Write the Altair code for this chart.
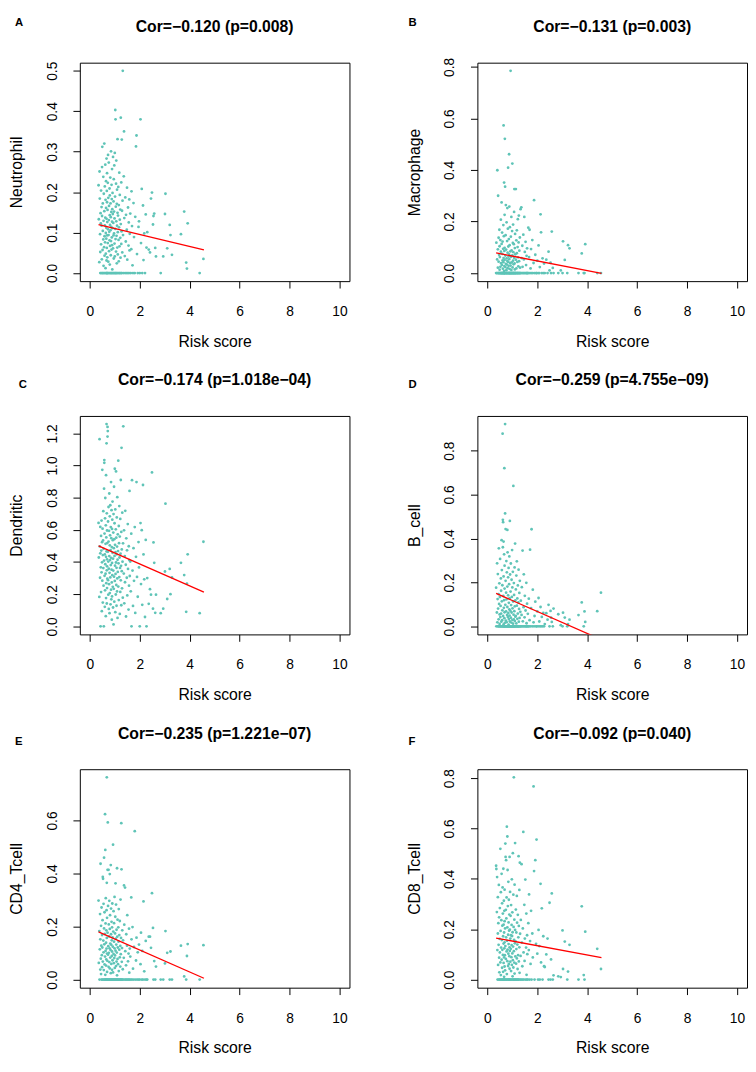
import altair as alt
import pandas as pd

# ---------------- data ----------------
risk_score = [
    0.35, 0.36, 0.38, 0.39, 0.40, 0.41, 0.42, 0.42, 0.43, 0.44, 0.45, 0.45, 0.46, 0.47, 0.47, 0.48, 0.49, 0.49,
    0.50, 0.50, 0.51, 0.52, 0.52, 0.53, 0.54, 0.54, 0.55, 0.55, 0.56, 0.57, 0.57, 0.58, 0.58, 0.59, 0.59, 0.60, 0.60, 0.61,
    0.61, 0.62, 0.62, 0.63, 0.63, 0.64, 0.64, 0.65, 0.65, 0.65, 0.66, 0.66, 0.67, 0.67, 0.67, 0.68, 0.68, 0.68, 0.69, 0.69,
    0.69, 0.69, 0.70, 0.70,
    0.71, 0.71, 0.72, 0.72, 0.73, 0.73, 0.74, 0.74, 0.75, 0.75, 0.76, 0.76, 0.77, 0.77, 0.78, 0.78, 0.79, 0.79, 0.80, 0.80,
    0.80, 0.81, 0.81, 0.82, 0.82, 0.83, 0.83, 0.84, 0.84, 0.85, 0.85, 0.85, 0.86, 0.86, 0.87, 0.87, 0.88, 0.88, 0.88, 0.89,
    0.89, 0.89, 0.90, 0.90, 0.91, 0.91, 0.92, 0.92,
    0.93, 0.93, 0.94, 0.94, 0.95, 0.95, 0.96, 0.96, 0.97, 0.97, 0.98, 0.98, 0.99, 0.99, 1.00, 1.00, 1.01, 1.01, 1.02, 1.02,
    1.03, 1.03, 1.04, 1.04, 1.05, 1.05, 1.06, 1.06, 1.07, 1.07, 1.08, 1.08, 1.09, 1.09, 1.10, 1.10, 1.11, 1.11, 1.12, 1.12,
    1.13, 1.14, 1.14, 1.15, 1.16, 1.16, 1.17, 1.18, 1.18, 1.19, 1.20, 1.20, 1.21, 1.22, 1.22, 1.23, 1.24, 1.24, 1.25, 1.26,
    1.26, 1.27, 1.28, 1.28, 1.29, 1.30, 1.31, 1.32,
    1.33, 1.34, 1.36, 1.37, 1.38, 1.40, 1.41, 1.42, 1.44, 1.45, 1.46, 1.48, 1.49, 1.50, 1.52, 1.53, 1.55, 1.56, 1.57, 1.58,
    1.59, 1.60,
    1.62, 1.64, 1.66, 1.67, 1.69, 1.71, 1.73, 1.75, 1.77, 1.80, 1.82, 1.85, 1.87, 1.89, 1.92, 1.95,
    1.97, 2.00, 2.03, 2.05, 2.08, 2.10, 2.13, 2.15, 2.18, 2.21, 2.24, 2.27,
    2.30, 2.36, 2.41, 2.45, 2.49, 2.53, 2.55, 2.58, 2.62, 2.65, 2.84, 2.94, 3.01, 3.03, 3.10, 3.20, 3.23, 3.29, 3.65, 3.78,
    3.86, 3.89, 3.92, 4.40, 4.55,
]

neutrophil = [
    0.217, 0.133, 0.027, 0.251, 0.184, 0.096, 0.052, 0.0, 0.148, 0.123, 0.204, 0.071, 0.0, 0.117, 0.163, 0.034, 0.262, 0.141,
    0.312, 0.0, 0.057, 0.172, 0.104, 0.0, 0.238, 0.083, 0.129, 0.018, 0.196, 0.064, 0.0, 0.32, 0.153, 0.091, 0.043, 0.214,
    0.118, 0.0, 0.076, 0.268, 0.137, 0.012, 0.181, 0.099, 0.048, 0.227, 0.0, 0.161, 0.085, 0.112, 0.283, 0.031, 0.134, 0.0,
    0.203, 0.062, 0.175, 0.093, 0.0, 0.247, 0.126, 0.039,
    0.156, 0.0, 0.223, 0.074, 0.108, 0.292, 0.028, 0.186, 0.094, 0.0, 0.131, 0.273, 0.054, 0.166, 0.102, 0.0, 0.209, 0.081,
    0.143, 0.021, 0.192, 0.119, 0.067, 0.0, 0.236, 0.106, 0.172, 0.044, 0.138, 0.301, 0.079, 0.0, 0.151, 0.114, 0.218, 0.058,
    0.183, 0.0, 0.088, 0.257, 0.127, 0.069, 0.158, 0.009, 0.198, 0.111, 0.0, 0.146,
    0.287, 0.061, 0.124, 0.0, 0.177, 0.093, 0.232, 0.036, 0.152, 0.098, 0.0, 0.266, 0.073, 0.135, 0.297, 0.041, 0.189, 0.0,
    0.109, 0.403, 0.38, 0.084, 0.164, 0.0, 0.221, 0.053, 0.128, 0.278, 0.092, 0.0, 0.171, 0.024, 0.117, 0.206, 0.063, 0.0,
    0.149, 0.331, 0.101, 0.046,
    0.142, 0.0, 0.213, 0.082, 0.168, 0.029, 0.113, 0.248, 0.0, 0.066, 0.193, 0.132, 0.0, 0.087, 0.157, 0.038, 0.384, 0.121,
    0.0, 0.224, 0.072, 0.103, 0.33, 0.0, 0.154, 0.051, 0.179, 0.50,
    0.094, 0.0, 0.239, 0.35, 0.136, 0.042, 0.0, 0.187, 0.078, 0.144, 0.0, 0.107, 0.211, 0.033, 0.0, 0.162, 0.068, 0.125,
    0.0, 0.182, 0.056, 0.097,
    0.147, 0.0, 0.059, 0.202, 0.116, 0.019, 0.0, 0.173, 0.089, 0.0, 0.139, 0.313, 0.34, 0.047, 0.0, 0.114,
    0.128, 0.0, 0.38, 0.074, 0.208, 0.0, 0.167, 0.032, 0.098, 0.0, 0.145, 0.063,
    0.101, 0.058, 0.051, 0.184, 0.199, 0.120, 0.141, 0.147, 0.062, 0.041, 0.0, 0.041, 0.146, 0.196, 0.061, 0.119, 0.094,
    0.045, 0.096, 0.152, 0.026, 0.011, 0.123, 0.0, 0.035,
]

macrophage = [
    0.0, 0.118, 0.0, 0.053, 0.399, 0.0, 0.092, 0.021, 0.30, 0.0, 0.137, 0.044, 0.0, 0.071, 0.0, 0.168, 0.013, 0.104,
    0.0, 0.062, 0.0, 0.128, 0.024, 0.0, 0.083, 0.207, 0.0, 0.038, 0.0, 0.113, 0.274, 0.0, 0.031, 0.157, 0.0, 0.074, 0.0,
    0.049, 0.122, 0.0, 0.017, 0.094, 0.0, 0.186, 0.042, 0.0, 0.573, 0.058, 0.0, 0.143, 0.008, 0.351, 0.0, 0.086, 0.027,
    0.0, 0.226, 0.051, 0.0, 0.098, 0.521, 0.0,
    0.335, 0.0, 0.068, 0.023, 0.0, 0.147, 0.036, 0.264, 0.0, 0.091, 0.011, 0.0, 0.197, 0.057, 0.0, 0.033, 0.124, 0.0,
    0.047, 0.252, 0.0, 0.079, 0.019, 0.0, 0.172, 0.043, 0.409, 0.0, 0.103, 0.064, 0.0, 0.028, 0.132, 0.0, 0.072, 0.461,
    0.0, 0.258, 0.054, 0.0, 0.108, 0.016, 0.0, 0.178, 0.039, 0.0, 0.084, 0.0,
    0.785, 0.029, 0.0, 0.141, 0.063, 0.0, 0.218, 0.012, 0.0, 0.088, 0.041, 0.0, 0.163, 0.0, 0.069, 0.425, 0.0, 0.022,
    0.117, 0.0, 0.048, 0.188, 0.0, 0.081, 0.034, 0.0, 0.112, 0.0, 0.059, 0.237, 0.0, 0.326, 0.037, 0.0, 0.097, 0.014,
    0.0, 0.152, 0.0, 0.073,
    0.0, 0.052, 0.326, 0.0, 0.127, 0.018, 0.0, 0.077, 0.166, 0.0, 0.043, 0.0, 0.101, 0.209, 0.0, 0.061, 0.0, 0.026,
    0.119, 0.0, 0.223, 0.046, 0.0, 0.087, 0.0, 0.138, 0.021, 0.0,
    0.248, 0.0, 0.255, 0.058, 0.0, 0.106, 0.024, 0.0, 0.149, 0.0, 0.053, 0.218, 0.0, 0.082, 0.0, 0.121, 0.031, 0.0,
    0.067, 0.0, 0.096, 0.0,
    0.0, 0.176, 0.0, 0.062, 0.168, 0.0, 0.018, 0.093, 0.0, 0.128, 0.0, 0.039, 0.283, 0.0, 0.071, 0.0,
    0.0, 0.048, 0.0, 0.107, 0.0, 0.023, 0.228, 0.158, 0.0, 0.057, 0.0, 0.037,
    0.0, 0.052, 0.0, 0.083, 0.01, 0.04, 0.0, 0.161, 0.02, 0.0, 0.0, 0.01, 0.0, 0.123, 0.051, 0.0, 0.108, 0.096, 0.0,
    0.076, 0.0, 0.0, 0.112, 0.0, 0.0,
]

dendritic = [
    0.643, 0.428, 0.183, 1.164, 0.497, 0.302, 0.618, 0.454, 0.0, 0.367, 0.562, 0.213, 0.471, 0.658, 0.336, 0.094, 0.523,
    0.398,
    0.284, 0.973, 0.607, 0.443, 0.148, 0.534, 0.362, 0.716, 0.253, 0.482, 0.0, 0.409, 0.856, 1.034, 1.017, 0.314, 0.577,
    0.121, 0.447, 0.672, 0.224, 0.386, 0.798, 0.513, 0.327, 0.063, 0.628, 0.432, 0.176, 0.94, 0.553, 0.268, 1.138, 1.258,
    0.466, 0.348, 0.703, 0.142, 0.417, 0.596, 0.238, 0.373, 0.518, 0.296,
    1.24, 1.18, 0.463, 1.214, 0.287, 0.652, 0.403, 0.197, 0.742, 0.527, 0.108, 0.358, 0.594, 0.262, 0.437, 0.826, 0.333,
    0.082, 0.504, 0.684, 0.207, 0.412, 0.566, 0.304, 0.753, 0.137, 0.474, 0.381, 0.617, 0.228, 0.897, 0.426, 0.168, 0.548,
    0.352, 0.722, 0.273, 0.493, 0.041, 0.606, 0.394, 0.186, 0.663, 0.318, 0.457, 0.776, 0.246, 0.536,
    0.421, 0.117, 0.583, 0.347, 0.012, 0.698, 0.486, 0.233, 0.868, 0.309, 0.542, 0.153, 0.438, 0.641, 0.282, 0.98, 0.377,
    0.507, 0.088, 0.727, 0.326, 0.462, 0.198, 0.603, 0.397, 0.963, 0.257, 0.551, 0.128, 0.364, 0.677, 0.448, 0.217, 0.496,
    0.298, 0.803, 0.414, 0.052, 0.572, 0.338,
    0.468, 0.247, 1.03, 0.392, 0.624, 0.163, 0.517, 0.306, 0.748, 0.428, 0.077, 0.558, 0.363, 0.214, 0.668, 0.452, 0.286,
    0.91, 0.376, 0.131, 0.587, 1.11, 0.343, 0.478, 0.236, 0.707, 0.402, 0.178,
    0.516, 1.244, 0.328, 0.597, 0.143, 0.437, 0.274, 0.718, 0.383, 0.061, 0.547, 0.302, 0.473, 0.192, 0.636, 0.357, 0.104,
    0.498, 0.253, 0.412, 0.842, 0.313,
    0.403, 0.218, 0.576, 0.0, 0.909, 0.347, 0.127, 0.486, 0.283, 0.617, 0.083, 0.432, 0.897, 0.307, 0.184, 0.524,
    0.366, 0.0, 0.642, 0.263, 0.598, 0.134, 0.879, 0.447, 0.292, 0.058, 0.537, 0.0,
    0.30, 0.14, 0.231, 0.197, 0.957, 0.11, 0.522, 0.395, 0.084, 0.197, 0.082, 0.11, 0.341, 0.763, 0.17, 0.357, 0.20,
    0.305, 0.395, 0.319, 0.09, 0.265, 0.448, 0.082, 0.526,
]

b_cell = [
    0.176, 0.0, 0.063, 0.287, 0.018, 0.124, 0.0, 0.238, 0.081, 0.0, 0.147, 0.032, 0.355, 0.0, 0.102, 0.196, 0.011, 0.054,
    0.0, 0.133, 0.307, 0.042, 0.0, 0.093, 0.218, 0.0, 0.058, 0.162, 0.021, 0.392, 0.0, 0.114, 0.256, 0.028, 0.0, 0.073,
    0.187, 0.0, 0.877, 0.36, 0.485, 0.474, 0.047, 0.0, 0.138, 0.386, 0.009, 0.227, 0.0, 0.084, 0.328, 0.0, 0.119, 0.037,
    0.0, 0.72, 0.172, 0.0, 0.064, 0.276, 0.016, 0.0,
    0.921, 0.514, 0.098, 0.0, 0.207, 0.443, 0.026, 0.0, 0.153, 0.068, 0.297, 0.0, 0.123, 0.019, 0.0, 0.246, 0.052, 0.0,
    0.181, 0.439, 0.088, 0.0, 0.337, 0.043, 0.0, 0.141, 0.223, 0.0, 0.061, 0.008, 0.266, 0.0, 0.107, 0.033, 0.0, 0.192,
    0.077, 0.0, 0.318, 0.049, 0.0, 0.128, 0.48, 0.022, 0.0, 0.236, 0.071, 0.0,
    0.158, 0.0, 0.039, 0.286, 0.0, 0.097, 0.017, 0.0, 0.212, 0.063, 0.0, 0.134, 0.347, 0.0, 0.029, 0.177, 0.0, 0.082,
    0.248, 0.0, 0.012, 0.113, 0.0, 0.639, 0.053, 0.0, 0.197, 0.031, 0.0, 0.143, 0.069, 0.0, 0.268, 0.0, 0.091, 0.024,
    0.377, 0.0, 0.118, 0.044,
    0.0, 0.168, 0.048, 0.0, 0.231, 0.013, 0.0, 0.094, 0.296, 0.0, 0.127, 0.034, 0.0, 0.186, 0.058, 0.0, 0.109, 0.0,
    0.258, 0.021, 0.0, 0.079, 0.152, 0.0, 0.038, 0.207, 0.0, 0.066,
    0.0, 0.117, 0.0, 0.052, 0.178, 0.0, 0.345, 0.023, 0.0, 0.087, 0.237, 0.0, 0.041, 0.139, 0.0, 0.072, 0.0, 0.198,
    0.014, 0.0, 0.103, 0.0,
    0.057, 0.0, 0.126, 0.0, 0.028, 0.349, 0.0, 0.083, 0.442, 0.0, 0.167, 0.018, 0.0, 0.047, 0.112, 0.0,
    0.0, 0.068, 0.0, 0.129, 0.022, 0.0, 0.088, 0.0, 0.043, 0.0, 0.061, 0.0,
    0.01, 0.06, 0.03, 0.098, 0.0, 0.07, 0.04, 0.02, 0.0, 0.081, 0.055, 0.005, 0.0, 0.062, 0.04, 0.0, 0.01, 0.03, 0.051,
    0.109, 0.0, 0.068, 0.02, 0.069, 0.153,
]

cd4_tcell = [
    0.298, 0.063, 0.183, 0.0, 0.114, 0.247, 0.038, 0.152, 0.437, 0.079, 0.203, 0.021, 0.128, 0.272, 0.0, 0.092, 0.168,
    0.047,
    0.121, 0.0, 0.224, 0.387, 0.068, 0.38, 0.147, 0.0, 0.286, 0.103, 0.036, 0.46, 0.193, 0.0, 0.133, 0.254, 0.057, 0.0,
    0.172, 0.087, 0.624, 0.489, 0.018, 0.212, 0.108, 0.0, 0.307, 0.139, 0.053, 0.0, 0.186, 0.076, 0.262, 0.117, 0.0,
    0.763, 0.365, 0.157, 0.029, 0.0, 0.098, 0.233, 0.071, 0.0,
    0.414, 0.177, 0.0, 0.593, 0.094, 0.278, 0.126, 0.0, 0.048, 0.414, 0.208, 0.101, 0.0, 0.163, 0.066, 0.297, 0.0, 0.118,
    0.398, 0.042, 0.191, 0.0, 0.243, 0.083, 0.136, 0.0, 0.112, 0.432, 0.024, 0.171, 0.268, 0.0, 0.059, 0.131, 0.0, 0.218,
    0.089, 0.148, 0.0, 0.037, 0.197, 0.106, 0.0, 0.287, 0.073, 0.159, 0.0, 0.124,
    0.509, 0.027, 0.181, 0.0, 0.097, 0.258, 0.062, 0.0, 0.143, 0.213, 0.0, 0.081, 0.312, 0.118, 0.0, 0.044, 0.174, 0.091,
    0.0, 0.237, 0.363, 0.109, 0.0, 0.154, 0.051, 0.283, 0.0, 0.132, 0.068, 0.188, 0.0, 0.102, 0.016, 0.42, 0.162, 0.0,
    0.226, 0.078, 0.0, 0.121,
    0.058, 0.197, 0.0, 0.143, 0.266, 0.032, 0.0, 0.113, 0.168, 0.0, 0.084, 0.221, 0.0, 0.127, 0.049, 0.302, 0.0, 0.096,
    0.157, 0.0, 0.59, 0.416, 0.067, 0.0, 0.119, 0.186, 0.0, 0.039,
    0.148, 0.0, 0.082, 0.355, 0.207, 0.0, 0.347, 0.107, 0.0, 0.054, 0.171, 0.0, 0.128, 0.243, 0.0, 0.069, 0.098, 0.0,
    0.192, 0.026, 0.0, 0.117,
    0.087, 0.0, 0.31, 0.152, 0.0, 0.198, 0.041, 0.0, 0.123, 0.56, 0.0, 0.072, 0.158, 0.0, 0.103, 0.0,
    0.132, 0.0, 0.058, 0.177, 0.0, 0.108, 0.0, 0.295, 0.031, 0.0, 0.146, 0.0,
    0.0, 0.162, 0.162, 0.12, 0.326, 0.195, 0.0, 0.07, 0.0, 0.049, 0.0, 0.0, 0.061, 0.183, 0.101, 0.0, 0.106, 0.0, 0.128,
    0.012, 0.0, 0.089, 0.134, 0.0, 0.13,
]

cd8_tcell = [
    0.452, 0.439, 0.268, 0.407, 0.117, 0.0, 0.183, 0.327, 0.058, 0.224, 0.0, 0.138, 0.376, 0.087, 0.247, 0.029, 0.162, 0.0,
    0.108, 0.284, 0.0, 0.519, 0.068, 0.193, 0.347, 0.018, 0.127, 0.0, 0.236, 0.42, 0.079, 0.157, 0.0, 0.303, 0.047,
    0.214, 0.118, 0.0, 0.366, 0.098, 0.262, 0.031, 0.172, 0.0, 0.44, 0.143, 0.066, 0.218, 0.0, 0.313, 0.088, 0.187,
    0.011, 0.273, 0.124, 0.0, 0.357, 0.052, 0.148, 0.232, 0.0, 0.097,
    0.203, 0.037, 0.54, 0.133, 0.0, 0.487, 0.277, 0.082, 0.474, 0.168, 0.0, 0.243, 0.112, 0.326, 0.022, 0.607, 0.154, 0.0,
    0.207, 0.568, 0.073, 0.435, 0.119, 0.0, 0.292, 0.178, 0.054, 0.388, 0.103, 0.0, 0.227, 0.141, 0.062, 0.317, 0.0,
    0.194, 0.093, 0.258, 0.0, 0.128, 0.487, 0.043, 0.198, 0.114, 0.0, 0.348, 0.163, 0.071,
    0.253, 0.0, 0.122, 0.176, 0.034, 0.296, 0.089, 0.0, 0.217, 0.137, 0.058, 0.398, 0.0, 0.173, 0.104, 0.267, 0.013,
    0.188, 0.502, 0.077, 0.0, 0.131, 0.337, 0.048, 0.209, 0.0, 0.803, 0.113, 0.158, 0.0, 0.238, 0.067, 0.377, 0.024,
    0.144, 0.0, 0.197, 0.542, 0.092, 0.0,
    0.152, 0.278, 0.0, 0.063, 0.187, 0.121, 0.0, 0.332, 0.084, 0.226, 0.0, 0.139, 0.042, 0.257, 0.0, 0.097, 0.168, 0.0,
    0.49, 0.072, 0.213, 0.0, 0.128, 0.356, 0.027, 0.464, 0.182, 0.0,
    0.094, 0.237, 0.0, 0.458, 0.147, 0.053, 0.0, 0.203, 0.586, 0.108, 0.0, 0.297, 0.074, 0.163, 0.397, 0.0, 0.127, 0.262,
    0.019, 0.0, 0.176, 0.101,
    0.0, 0.224, 0.117, 0.338, 0.0, 0.153, 0.062, 0.273, 0.0, 0.183, 0.088, 0.767, 0.431, 0.0, 0.474, 0.142,
    0.556, 0.103, 0.0, 0.197, 0.133, 0.0, 0.38, 0.068, 0.283, 0.0, 0.172, 0.053,
    0.05, 0.10, 0.163, 0.0, 0.305, 0.0, 0.08, 0.342, 0.0, 0.017, 0.013, 0.01, 0.195, 0.042, 0.151, 0.0, 0.032, 0.138,
    0.0, 0.291, 0.018, 0.0, 0.19, 0.122, 0.042,
]

panel_letters = ["A", "B", "C", "D", "E", "F"]
cell_types = ["Neutrophil", "Macrophage", "Dendritic", "B_cell", "CD4_Tcell", "CD8_Tcell"]
cell_values = [neutrophil, macrophage, dendritic, b_cell, cd4_tcell, cd8_tcell]
cor_titles = [
    "Cor=\u22120.120 (p=0.008)",
    "Cor=\u22120.131 (p=0.003)",
    "Cor=\u22120.174 (p=1.018e\u221204)",
    "Cor=\u22120.259 (p=4.755e\u221209)",
    "Cor=\u22120.235 (p=1.221e\u221207)",
    "Cor=\u22120.092 (p=0.040)",
]
x_ticks = [0, 2, 4, 6, 8, 10]
y_ticks = [
    [0.0, 0.1, 0.2, 0.3, 0.4, 0.5],
    [0.0, 0.2, 0.4, 0.6, 0.8],
    [0.0, 0.2, 0.4, 0.6, 0.8, 1.0, 1.2],
    [0.0, 0.2, 0.4, 0.6, 0.8],
    [0.0, 0.2, 0.4, 0.6],
    [0.0, 0.2, 0.4, 0.6, 0.8],
]
fit_x = [0.35, 4.57]
fit_start = [0.120, 0.078, 0.500, 0.150, 0.180, 0.165]
fit_end = [0.057, -0.001, 0.213, -0.061, 0.005, 0.087]

for v in cell_values:
    assert len(v) == len(risk_score), (len(v), len(risk_score))

# ---------------- style ----------------
W, H = 274, 222
FONT = "Liberation Sans"
POINT_COLOR = "#5FC4B7"
letter_pos = [(-66, -37), (-70, -37), (-62, -28), (-70, -28), (-66, -25), (-70, -25)]


def panel(i):
    vals = cell_values[i]
    lo, hi = min(vals), max(vals)
    pad = 0.04 * (hi - lo)
    xs = alt.Scale(domain=[-0.4, 10.4], nice=False, zero=False)
    ys = alt.Scale(domain=[lo - pad, hi + pad], nice=False, zero=False)
    xaxis = alt.Axis(
        values=x_ticks, format="d", grid=False, domain=False,
        tickSize=7, tickColor="black", tickWidth=1,
        labelFont=FONT, labelFontSize=14, labelColor="black", labelPadding=28,
        labelBaseline="alphabetic", labelFlush=False, labelOverlap=False,
        title="Risk score", titleFont=FONT, titleFontSize=16, titleFontWeight="normal",
        titleColor="black", titleY=66, titleBaseline="alphabetic",
    )
    yaxis = alt.Axis(
        values=y_ticks[i], format=".1f", grid=False, domain=False,
        tickSize=7, tickColor="black", tickWidth=1,
        labelFont=FONT, labelFontSize=14, labelColor="black", labelPadding=17,
        labelAngle=270, labelAlign="center", labelBaseline="alphabetic",
        labelFlush=False, labelOverlap=False,
        title=cell_types[i], titleFont=FONT, titleFontSize=16, titleFontWeight="normal",
        titleColor="black", titleAngle=270, titleAlign="center", titleBaseline="alphabetic",
        titleX=-59, titleY=H / 2,
    )
    df = pd.DataFrame({"risk": risk_score, "value": vals})
    pts = alt.Chart(df).mark_circle(size=8, color=POINT_COLOR, opacity=1).encode(
        x=alt.X("risk:Q", scale=xs, axis=xaxis),
        y=alt.Y("value:Q", scale=ys, axis=yaxis),
    )
    fit_df = pd.DataFrame({"risk": fit_x, "value": [fit_start[i], fit_end[i]]})
    fit = alt.Chart(fit_df).mark_line(color="#FF0000", strokeWidth=1.3, clip=True).encode(
        x=alt.X("risk:Q", scale=xs, axis=xaxis),
        y=alt.Y("value:Q", scale=ys, axis=yaxis),
    )
    title = alt.Chart(pd.DataFrame({"t": [cor_titles[i]]})).mark_text(
        font=FONT, fontSize=16, fontWeight="bold", align="center", baseline="alphabetic", color="black"
    ).encode(text="t:N", x=alt.value(W / 2), y=alt.value(-31))
    lx, ly = letter_pos[i]
    letter = alt.Chart(pd.DataFrame({"t": [panel_letters[i]]})).mark_text(
        font=FONT, fontSize=11.5, fontWeight="bold", align="left", baseline="alphabetic", color="black"
    ).encode(text="t:N", x=alt.value(lx), y=alt.value(ly))
    return alt.layer(pts, fit, title, letter).properties(width=W, height=H)


chart = alt.concat(
    *[panel(i) for i in range(6)],
    columns=2,
    spacing={"row": 137, "column": 130},
    bounds="flush",
).properties(padding=0, background="white").configure_view(stroke="black", strokeWidth=1)

chart.save("out.html", embed_options={"renderer": "svg", "actions": False})
